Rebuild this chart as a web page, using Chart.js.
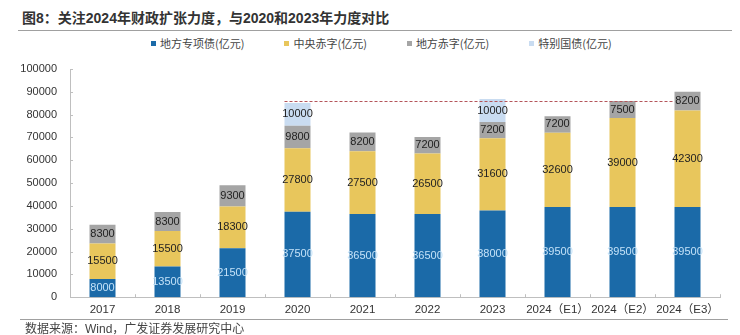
<!DOCTYPE html>
<html>
<head>
<meta charset="utf-8">
<script src="https://cdn.jsdelivr.net/npm/chart.js@4/dist/chart.umd.min.js"></script>
<style>
  body { margin: 0; background: #fff; width: 740px; height: 335px; overflow: hidden; position: relative; font-family: "Liberation Sans", "Noto Sans CJK SC", sans-serif; }
  #title { position: absolute; left: 22px; top: 7px; font-size: 14px; font-weight: bold; color: #333; font-family: "Liberation Sans", "Noto Sans CJK SC", sans-serif; }
  .rule { position: absolute; left: 18px; right: 8px; height: 1px; background: #a0a0a0; }
  #source { position: absolute; left: 25px; top: 319px; font-size: 12px; color: #444; font-family: "Liberation Sans", "Noto Sans CJK SC", sans-serif; }
  #legend { position: absolute; left: 151px; top: 35px; display: flex; gap: 40px; font-size: 11px; color: #444; font-family: "Noto Sans CJK SC", sans-serif; line-height: 16px; }
  #legend span.box { display: inline-block; width: 5px; height: 5px; margin-right: 4px; vertical-align: 2px; }
  #wrap { position: absolute; left: 0; top: 33px; width: 740px; height: 290px; }
</style>
</head>
<body>
<div id="title">图8：关注2024年财政扩张力度，与2020和2023年力度对比</div>
<div class="rule" style="top:30px"></div>
<div id="legend"></div>
<div id="wrap"><canvas id="fiscal-chart"></canvas></div>
<div class="rule" style="top:319px; left:20px; right:12px"></div>
<div id="source">数据来源：Wind，广发证券发展研究中心</div>
<script>
// =============================================================================
// DATA
// =============================================================================

const years = ['2017', '2018', '2019', '2020', '2021', '2022', '2023', '2024（E1）', '2024（E2）', '2024（E3）'];
const seriesNames = ['地方专项债(亿元)', '中央赤字(亿元)', '地方赤字(亿元)', '特别国债(亿元)'];
const localSpecialBonds = [8000, 13500, 21500, 37500, 36500, 36500, 38000, 39500, 39500, 39500];
const centralDeficit = [15500, 15500, 18300, 27800, 27500, 26500, 31600, 32600, 39000, 42300];
const localDeficit = [8300, 8300, 9300, 9800, 8200, 7200, 7200, 7200, 7500, 8200];
const specialTreasury = [0, 0, 0, 10000, 0, 0, 10000, 0, 0, 0];
const yTicks = [0, 10000, 20000, 30000, 40000, 50000, 60000, 70000, 80000, 90000, 100000];

// reference line (dashed) level and span over categories
const refLevel = 86000;
const refFrom = 3;
const refTo = 9;

const colors = {
  blue: '#1b6aa8',
  yellow: '#e8c65c',
  gray: '#a5a5a5',
  lightBlue: '#c9dcf1',
  axis: '#bfbfbf',
  text: '#333333'
};

// =============================================================================
// PLUGINS
// =============================================================================

// Value labels in the middle of each stacked segment
const segmentLabels = {
  id: 'segmentLabels',
  afterDatasetsDraw(chart) {
    const ctx = chart.ctx;
    ctx.save();
    ctx.font = '11px "Liberation Sans", Arial, sans-serif';
    ctx.textAlign = 'center';
    ctx.textBaseline = 'middle';
    chart.data.datasets.forEach((ds, i) => {
      const meta = chart.getDatasetMeta(i);
      meta.data.forEach((bar, j) => {
        const v = ds.data[j];
        if (!v) return;
        ctx.fillStyle = i === 0 ? '#c4e2f8' : '#222';
        ctx.fillText(String(v), bar.x, (bar.y + bar.base) / 2);
      });
    });
    ctx.restore();
  }
};

// Dashed reference line from the 2020 bar to the last bar
const refLine = {
  id: 'refLine',
  afterDatasetsDraw(chart) {
    const meta = chart.getDatasetMeta(0);
    const a = meta.data[refFrom];
    const b = meta.data[refTo];
    const y = Math.round(chart.scales.y.getPixelForValue(refLevel)) + 0.5;
    const ctx = chart.ctx;
    ctx.save();
    ctx.strokeStyle = '#b4555a';
    ctx.lineWidth = 1;
    ctx.setLineDash([3, 2]);
    ctx.beginPath();
    ctx.moveTo(a.x - a.width / 2, y);
    ctx.lineTo(b.x - b.width / 2, y);
    ctx.stroke();
    ctx.restore();
  }
};

// Short tick marks pointing into the plot (y ticks and x category boundaries)
const innerTicks = {
  id: 'innerTicks',
  afterDraw(chart) {
    const { x, y } = chart.scales;
    const ctx = chart.ctx;
    const left = chart.chartArea.left;
    const bottom = chart.chartArea.bottom;
    ctx.save();
    ctx.strokeStyle = colors.axis;
    ctx.lineWidth = 1;
    ctx.beginPath();
    yTicks.forEach(v => {
      const py = Math.round(y.getPixelForValue(v)) + 0.5;
      ctx.moveTo(left, py);
      ctx.lineTo(left + 3, py);
    });
    const step = x.getPixelForValue(1) - x.getPixelForValue(0);
    for (let i = 1; i <= years.length; i++) {
      const px = Math.round(x.getPixelForValue(i) - step / 2) + 0.5;
      ctx.moveTo(px, bottom);
      ctx.lineTo(px, bottom - 3);
    }
    ctx.stroke();
    ctx.restore();
  }
};

// =============================================================================
// LEGEND
// =============================================================================

const seriesData = [localSpecialBonds, centralDeficit, localDeficit, specialTreasury];
const seriesColors = [colors.blue, colors.yellow, colors.gray, colors.lightBlue];

document.getElementById('legend').innerHTML = seriesNames
  .map((name, i) => `<div><span class="box" style="background:${seriesColors[i]}"></span>${name}</div>`)
  .join('');

// =============================================================================
// CHART
// =============================================================================

const ctx = document.getElementById('fiscal-chart').getContext('2d');

new Chart(ctx, {
  type: 'bar',
  data: {
    labels: years,
    datasets: seriesNames.map((name, i) => ({
      label: name,
      data: seriesData[i],
      backgroundColor: seriesColors[i],
      borderWidth: 0,
      barPercentage: 0.4,
      categoryPercentage: 1.0
    }))
  },
  options: {
    responsive: true,
    maintainAspectRatio: false,
    animation: false,
    layout: { padding: { left: 10, right: 20, top: 36, bottom: 0 } },
    plugins: {
      legend: { display: false },
      tooltip: { enabled: false }
    },
    scales: {
      x: {
        stacked: true,
        border: { color: colors.axis },
        grid: { display: false, drawTicks: false },
        ticks: {
          color: colors.text,
          font: { size: 11.5, family: '"Liberation Sans", "Noto Sans CJK SC", sans-serif' },
          maxRotation: 0,
          autoSkip: false,
          padding: 6
        }
      },
      y: {
        stacked: true,
        min: 0,
        max: 100000,
        afterFit: (scale) => { scale.width = 60; },
        afterBuildTicks: (scale) => { scale.ticks = yTicks.map(v => ({ value: v })); },
        border: { color: colors.axis },
        grid: { display: false, drawTicks: false },
        ticks: {
          color: colors.text,
          font: { size: 11, family: '"Liberation Sans", Arial, sans-serif' },
          padding: 13,
          callback: (val) => String(val)
        }
      }
    }
  },
  plugins: [segmentLabels, refLine, innerTicks]
});
</script>
</body>
</html>
